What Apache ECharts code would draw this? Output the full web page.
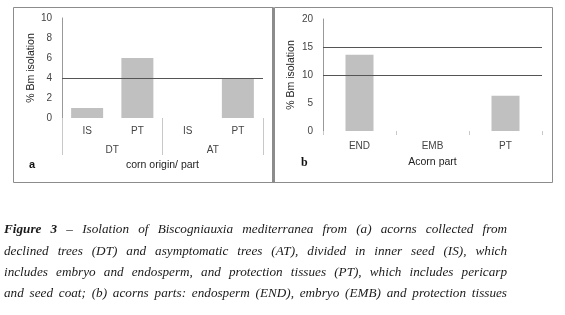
<!DOCTYPE html>
<html><head><meta charset="utf-8">
<script src="https://cdn.jsdelivr.net/npm/echarts@6/dist/echarts.min.js"></script>
<style>html,body{margin:0;padding:0;background:#fff}#c{width:565px;height:315px}</style>
</head><body><div id="c"></div>
<script>
// ---- data ----
const catsA = ['IS', 'PT', 'IS', 'PT'];
const groupsA = ['DT', 'AT'];
const valuesA = [1, 6, 0, 4];
const gridLinesA = [4];
const catsB = ['END', 'EMB', 'PT'];
const valuesB = [13.6, 0, 6.3];
const gridLinesB = [10, 15];
const captionLines = [
  [['Figure 3', true], ['–', false], ['Isolation of Biscogniauxia mediterranea from (a) acorns collected from', false]],
  [['declined trees (DT) and asymptomatic trees (AT), divided in inner seed (IS), which', false]],
  [['includes embryo and endosperm, and protection tissues (PT), which includes pericarp', false]],
  [['and seed coat; (b) acorns parts: endosperm (END), embryo (EMB) and protection tissues', false]]
];

// ---- styling ----
const sans = "'Liberation Sans', Arial, sans-serif";
const serif = "'Liberation Serif', 'DejaVu Serif', serif";
const axisLabel = { color: '#444', fontSize: 10, fontFamily: sans };
const nameStyle = { color: '#222', fontSize: 10.5, fontFamily: sans };
const barColor = '#c0c0c0';

function markLines(vals) {
  return {
    symbol: 'none', silent: true, animation: false,
    label: { show: false },
    lineStyle: { color: '#555', type: 'solid', width: 1 },
    data: vals.map(v => ({ yAxis: v }))
  };
}

// caption layout (justified)
const capFontSize = 13.2;
const cvs = document.createElement('canvas').getContext('2d');
function fontStr(bold) { return 'italic ' + (bold ? 'bold ' : '') + capFontSize + 'px ' + serif; }
const capLeft = 4, capRight = 507, capTop = 230, capStep = 21.3;
const captionGraphics = [];
captionLines.forEach((line, li) => {
  const words = [];
  line.forEach(([txt, bold]) => txt.split(' ').forEach(w => words.push([w, bold])));
  let total = 0;
  const widths = words.map(([w, b]) => { cvs.font = fontStr(b); const m = cvs.measureText(w).width; total += m; return m; });
  const gap = Math.max(2, (capRight - capLeft - total) / (words.length - 1));
  let x = capLeft;
  words.forEach(([w, b], i) => {
    captionGraphics.push({
      type: 'text', x: x, y: capTop + li * capStep,
      style: { text: w, fill: '#1a1a1a', font: fontStr(b), textVerticalAlign: 'middle', textAlign: 'left' }
    });
    x += widths[i] + gap;
  });
});

const chart = echarts.init(document.getElementById('c'), null, { renderer: 'canvas' });
chart.setOption({
  animation: false,
  backgroundColor: '#fff',
  grid: [
    { left: 62, top: 18, width: 201, height: 100 },
    { left: 323, top: 19, width: 219, height: 112 }
  ],
  xAxis: [
    { gridIndex: 0, type: 'category', data: catsA, axisLine: { show: false }, axisTick: { show: false },
      axisLabel: Object.assign({ margin: 8 }, axisLabel) },
    { gridIndex: 0, type: 'category', data: groupsA, position: 'bottom', axisLine: { show: false },
      axisTick: { show: true, length: 37, interval: 0, lineStyle: { color: '#c8c8c8' } },
      axisLabel: Object.assign({ margin: 27 }, axisLabel),
      name: 'corn origin/ part', nameLocation: 'middle', nameGap: 42, nameTextStyle: nameStyle },
    { gridIndex: 1, type: 'category', data: catsB, axisLine: { show: false },
      axisTick: { show: true, length: 4, interval: 0, lineStyle: { color: '#c8c8c8' } },
      axisLabel: Object.assign({ margin: 10 }, axisLabel),
      name: 'Acorn part', nameLocation: 'middle', nameGap: 26, nameTextStyle: nameStyle }
  ],
  yAxis: [
    { gridIndex: 0, type: 'value', min: 0, max: 10, interval: 2,
      axisLine: { show: true, lineStyle: { color: '#999' } }, axisTick: { show: false },
      splitLine: { show: false }, axisLabel: Object.assign({ margin: 10 }, axisLabel),
      name: '% Bm isolation', nameLocation: 'middle', nameGap: 24, nameTextStyle: nameStyle },
    { gridIndex: 1, type: 'value', min: 0, max: 20, interval: 5,
      axisLine: { show: true, lineStyle: { color: '#999' } }, axisTick: { show: false },
      splitLine: { show: false }, axisLabel: Object.assign({ margin: 10 }, axisLabel),
      name: '% Bm isolation', nameLocation: 'middle', nameGap: 26, nameTextStyle: nameStyle }
  ],
  series: [
    { type: 'bar', xAxisIndex: 0, yAxisIndex: 0, data: valuesA, barWidth: 32,
      itemStyle: { color: barColor }, markLine: markLines(gridLinesA) },
    { type: 'bar', xAxisIndex: 2, yAxisIndex: 1, data: valuesB, barWidth: 28,
      itemStyle: { color: barColor }, markLine: markLines(gridLinesB) }
  ],
  graphic: [
    { type: 'rect', shape: { x: 13.5, y: 7.5, width: 260, height: 175 }, style: { fill: null, stroke: '#8c8c8c', lineWidth: 1 }, silent: true },
    { type: 'rect', shape: { x: 274.5, y: 7.5, width: 278, height: 175 }, style: { fill: null, stroke: '#8c8c8c', lineWidth: 1 }, silent: true },
    { type: 'rect', shape: { x: 272, y: 8, width: 3, height: 175 }, style: { fill: '#8c8c8c' }, silent: true },
    { type: 'text', x: 29, y: 165, style: { text: 'a', font: 'bold 11px ' + sans, fill: '#111', textVerticalAlign: 'middle' } },
    { type: 'text', x: 301, y: 163, style: { text: 'b', font: 'bold 12px ' + serif, fill: '#111', textVerticalAlign: 'middle' } }
  ].concat(captionGraphics)
});
</script>
</body></html>
